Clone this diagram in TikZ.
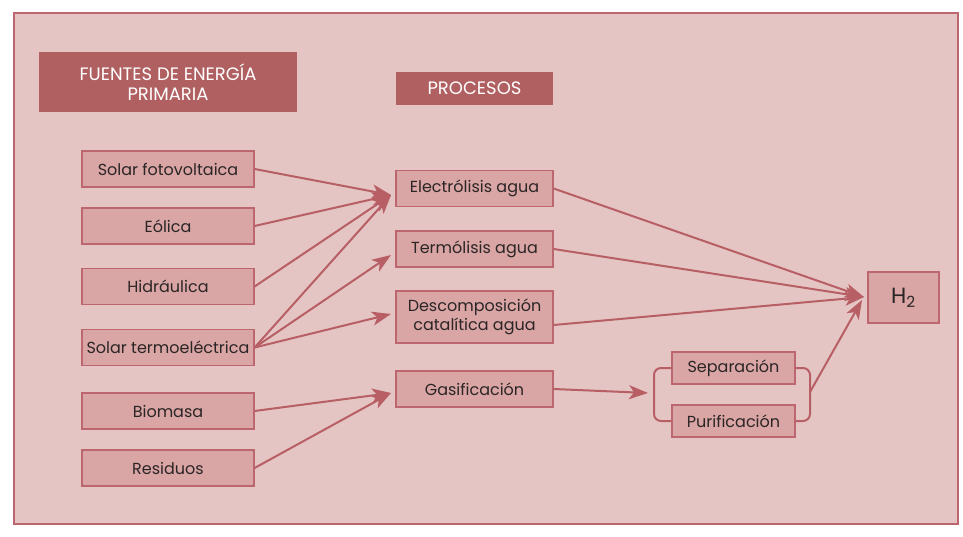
\documentclass[tikz,border=0pt]{standalone}
\usepackage{fontspec}
\setmainfont{Poppins}
\usetikzlibrary{arrows.meta}
\definecolor{bgc}{HTML}{E4C5C3}
\definecolor{framec}{HTML}{BC6670}
\definecolor{boxc}{HTML}{D9A5A5}
\definecolor{headc}{HTML}{B16062}
\definecolor{arrc}{HTML}{B85F66}
\definecolor{txtc}{HTML}{2B2525}
\begin{document}
\begin{tikzpicture}[x=1pt,y=-1pt,
  box/.style={draw=framec,fill=boxc,line width=1.2pt,text=txtc,font=\fontsize{16}{19}\selectfont,align=center,inner sep=0pt},
  head/.style={fill=headc,text=white,font=\fontsize{18}{20}\selectfont,align=center,inner sep=0pt},
  arr/.style={draw=arrc,line width=2pt,-{Stealth[length=19pt,width=14pt,inset=5pt]}},
  ln/.style={draw=arrc,line width=2pt}]
\useasboundingbox (0,0) rectangle (963,537);
\draw[fill=bgc,draw=framec,line width=1.5pt] (14,13) rectangle (958,524);
\node[head,minimum width=258,minimum height=60] (h1) at (168,82) {FUENTES DE ENERGÍA\\PRIMARIA};
\node[head,minimum width=157,minimum height=33] (h2) at (474.5,88.5) {PROCESOS};
% left
\node[box,minimum width=172,minimum height=36] (sf) at (168,169) {Solar fotovoltaica};
\node[box,minimum width=172,minimum height=36] (eo) at (168,226) {Eólica};
\node[box,minimum width=172,minimum height=36] (hi) at (168,286.5) {Hidráulica};
\node[box,minimum width=172,minimum height=36] (st) at (168,347.5) {Solar termoeléctrica};
\node[box,minimum width=172,minimum height=36] (bi) at (168,411) {Biomasa};
\node[box,minimum width=172,minimum height=36] (re) at (168,468) {Residuos};
% middle
\node[box,minimum width=157,minimum height=36] (el) at (474.5,188.5) {Electrólisis agua};
\node[box,minimum width=157,minimum height=36] (te) at (474.5,249) {Termólisis agua};
\node[box,minimum width=157,minimum height=52] (de) at (474.5,317) {Descomposición\\catalítica agua};
\node[box,minimum width=157,minimum height=36] (ga) at (474.5,389) {Gasificación};
% right
\node[box,minimum width=123,minimum height=32] (se) at (733.5,368) {Separación};
\node[box,minimum width=123,minimum height=32] (pu) at (733.5,421) {Purificación};
\node[box,minimum width=71,minimum height=51,font=\fontsize{22}{24}\selectfont] (h2o) at (903.5,297.5) {H\textsubscript{2}};
% convergence points
\coordinate (ce) at (391,195);
\coordinate (ct) at (391,255);
\coordinate (cd) at (391,314);
\coordinate (cg) at (391,393);
\coordinate (ch) at (864,297);
\coordinate (cb) at (648,393);
\draw[arr] (sf.east) -- (ce);
\draw[arr] (eo.east) -- (ce);
\draw[arr] (hi.east) -- (ce);
\draw[arr] (st.east) -- (ce);
\draw[arr] (st.east) -- (ct);
\draw[arr] (st.east) -- (cd);
\draw[arr] (bi.east) -- (cg);
\draw[arr] (re.east) -- (cg);
\draw[arr] (el.east) -- (ch);
\draw[arr] (te.east) -- (ch);
\draw[arr] ([yshift=-8pt]de.east) -- (ch);
\draw[arr] (ga.east) -- (cb);
% brackets
\draw[ln,rounded corners=7pt] (se.west) -- (654,368) -- (654,421) -- (pu.west);
\draw[ln,rounded corners=7pt] (se.east) -- (810,368) -- (810,421) -- (pu.east);
\coordinate (br) at (810,392);
\draw[arr] (br) -- (862,300);
\end{tikzpicture}
\end{document}
